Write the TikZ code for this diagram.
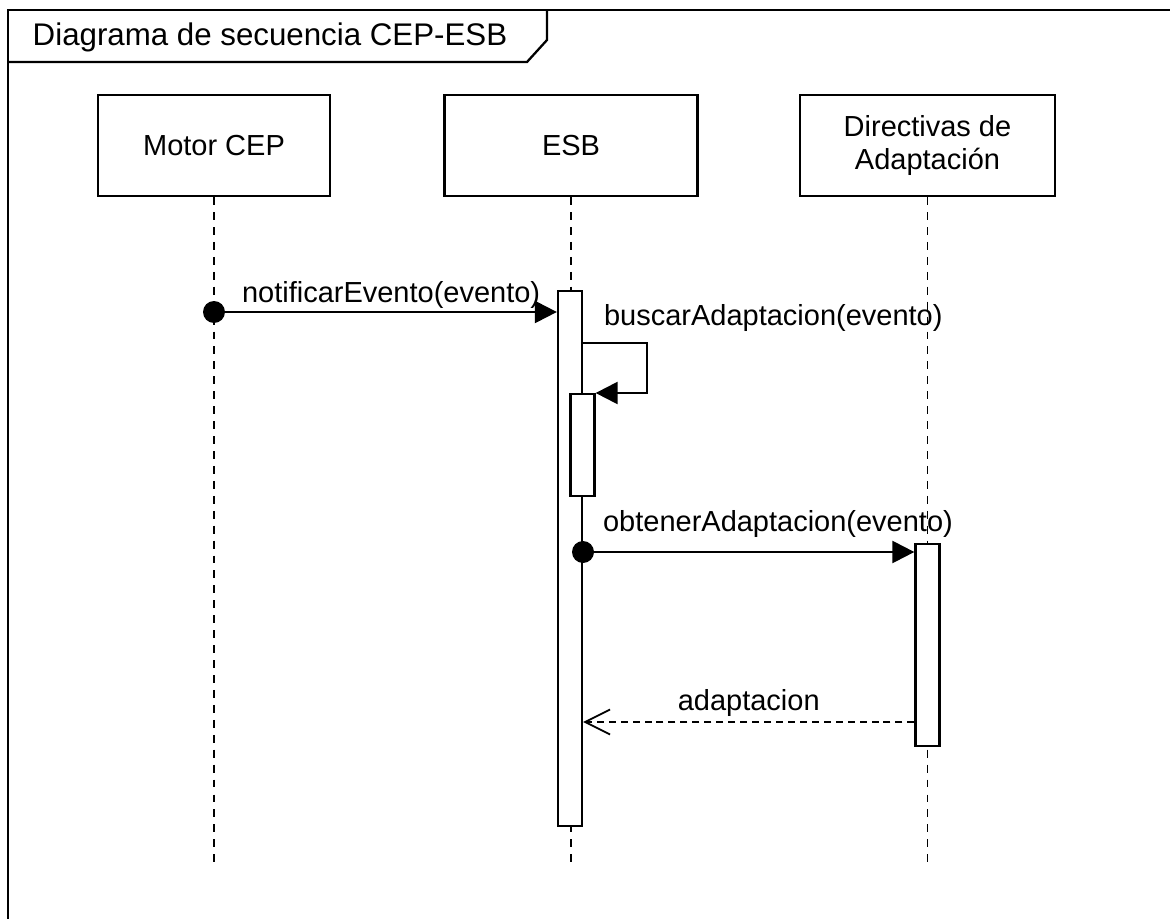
\documentclass[tikz,border=0pt]{standalone}
\usepackage{fontspec}
\setmainfont{Liberation Sans}
\usetikzlibrary{arrows.meta,positioning}
\tikzset{
  lbl/.style={font=\fontsize{16.5}{19}\selectfont, inner sep=1pt},
  lifebox/.style={draw, line width=1.3pt, fill=white, lbl, align=center, minimum height=2.02cm},
  actbox/.style={draw, line width=1.3pt, fill=white, minimum width=0.48cm, inner sep=0pt, anchor=north},
  lifeline/.style={line width=1.1pt, dash pattern=on 4.5pt off 4pt},
  msg/.style={line width=1.3pt, -{Triangle[length=4.4mm,width=4.4mm]}},
  reply/.style={line width=1pt, dash pattern=on 4pt off 2.8pt, -{Straight Barb[length=5mm,width=5mm,line width=1pt]}},
  dot/.style={circle, fill=black, minimum size=0.44cm, inner sep=0pt}
}
\begin{document}
\begin{tikzpicture}[x=0.02cm, y=-0.02cm]
	\useasboundingbox (0,0) rectangle (1170,919);
	% marco
	\draw[line width=1.5pt] (8,919) -- (8,10) -- (1170,10);
	\draw[line width=1.3pt] (8,62) -- (527,62) -- (547,40) -- (547,10);
	\node[lbl, font=\fontsize{17.8}{20}\selectfont] (titulo) at (270,37) {Diagrama de secuencia CEP-ESB};
	% lineas de vida
	\node[lifebox, minimum width=4.64cm] (motor) at (214,145.5) {Motor CEP};
	\node[lifebox, minimum width=5.06cm] (esb) at (571,145.5) {ESB};
	\node[lifebox, minimum width=5.1cm] (directivas) at (927.5,145.5) {Directivas de\\Adaptación};
	\coordinate (motorfin) at (214,865);
	\coordinate (esbfin) at (571,865);
	\coordinate (directivasfin) at (927.5,865);
	\draw[lifeline] (motor) -- (motorfin);
	\draw[lifeline] (esb) -- (esbfin);
	\draw[lifeline] (directivas) -- (directivasfin);
	% activaciones
	\node[actbox, minimum height=10.7cm] (esbact) at (570,290) {};
	\node[actbox, minimum height=2.04cm] (selfact) at (582.5,393) {};
	\node[actbox, minimum height=4.04cm] (diract) at (927.5,543) {};
	% notificarEvento
	\node[dot] (d1) at (214,312) {};
	\draw[msg] (d1) -- (esbact.west |- d1) node[lbl, midway, above=0.5pt] {notificarEvento(evento)};
	% buscarAdaptacion
	\node[lbl, anchor=west] (buscar) at (602,318) {buscarAdaptacion(evento)};
	\draw[msg] (esbact.east |- 0,343) -- (647,343) |- (selfact.north east);
	% obtenerAdaptacion
	\node[dot] (d2) at (583,552) {};
	\node[lbl, anchor=west] (obtener) at (601,524) {obtenerAdaptacion(evento)};
	\draw[msg] (d2) -- (diract.west |- d2);
	% adaptacion
	\draw[reply] (diract.west |- 0,722) -- (esbact.east |- 0,722) node[lbl, midway, above=1.5pt] {adaptacion};
\end{tikzpicture}
\end{document}
